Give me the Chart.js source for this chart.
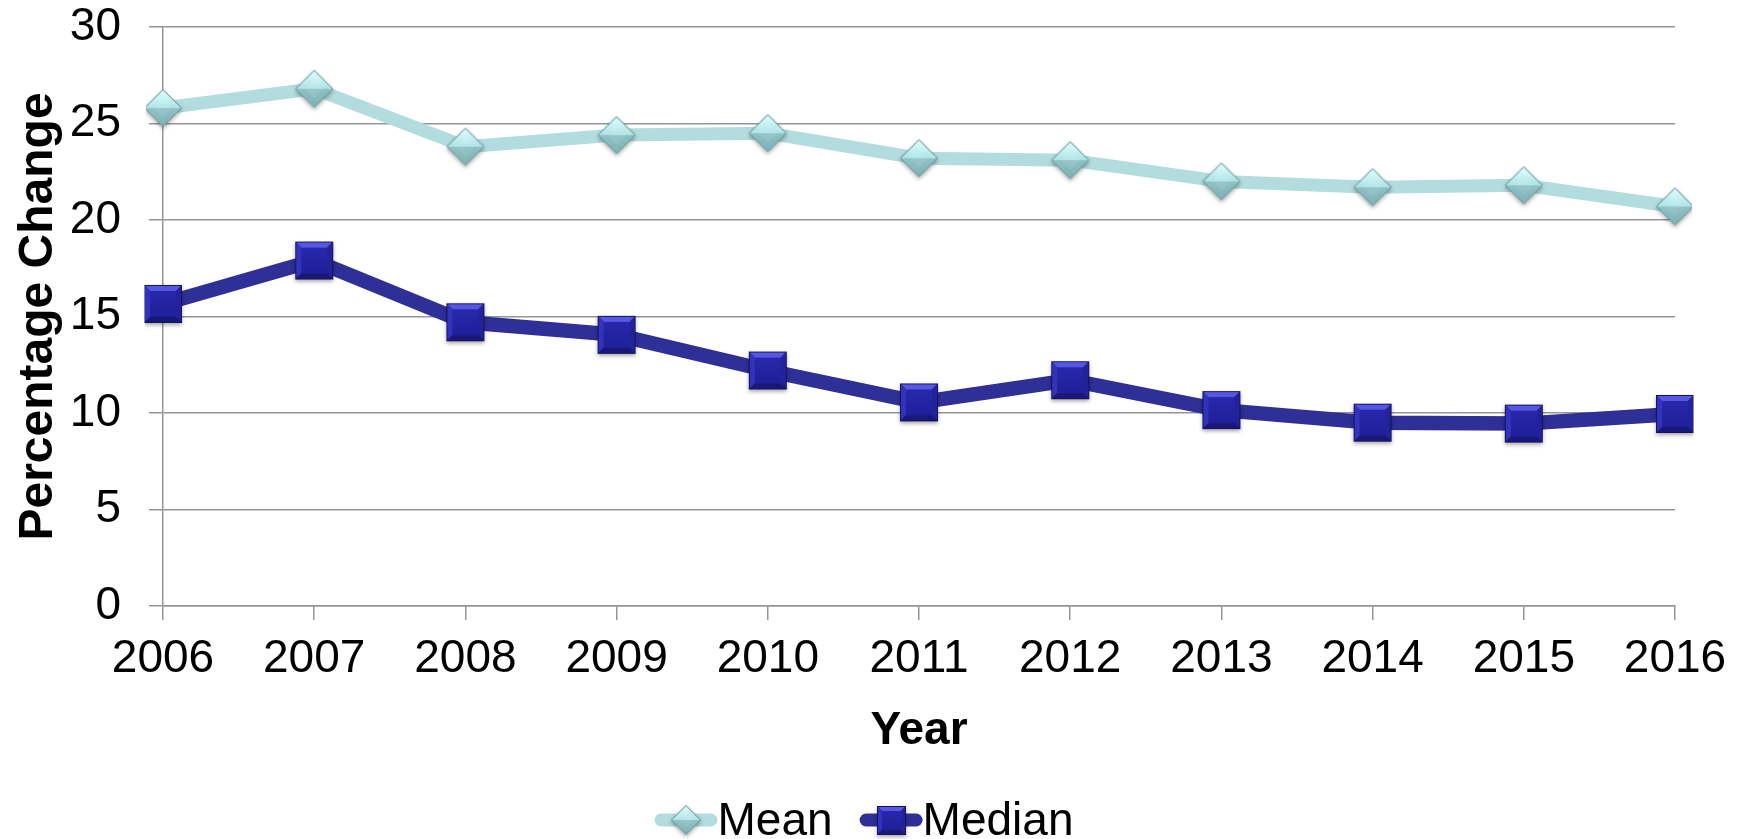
<!DOCTYPE html>
<html>
<head>
<meta charset="utf-8">
<script src="https://cdn.jsdelivr.net/npm/chart.js@4.4.1/dist/chart.umd.min.js"></script>
<style>
  html, body { margin: 0; padding: 0; background: #ffffff; }
  #wrap { width: 1746px; height: 839px; }
</style>
</head>
<body>
<div id="wrap"><canvas id="chart" width="1746" height="839"></canvas></div>
<script>
// Years on the horizontal axis
const years = ['2006', '2007', '2008', '2009', '2010', '2011', '2012', '2013', '2014', '2015', '2016'];
// Percentage change per year
const meanValues = [25.8, 26.8, 23.8, 24.4, 24.5, 23.2, 23.1, 22.0, 21.7, 21.8, 20.7];
const medianValues = [15.65, 17.9, 14.7, 14.05, 12.2, 10.55, 11.7, 10.15, 9.5, 9.45, 9.95];
// Vertical axis ticks
const yTicks = [0, 5, 10, 15, 20, 25, 30];

const FONT = '"Liberation Sans", Arial, sans-serif';
const GRID = '#959595';

// Beveled diamond marker
function makeDiamond(size) {
  const m = 6, S = size + 2 * m, c = S / 2, r = size / 2;
  const cv = document.createElement('canvas');
  cv.width = S; cv.height = S;
  const g = cv.getContext('2d');
  g.save();
  g.shadowColor = 'rgba(0,0,0,0.35)';
  g.shadowBlur = 4;
  g.shadowOffsetY = 2;
  g.beginPath();
  g.moveTo(c, c - r); g.lineTo(c + r, c); g.lineTo(c, c + r); g.lineTo(c - r, c); g.closePath();
  g.fillStyle = '#6f9fa2';
  g.fill();
  g.restore();
  const ri = r - 1.2;
  // upper half
  let gr = g.createLinearGradient(0, c - ri, 0, c);
  gr.addColorStop(0, '#e2ffff');
  gr.addColorStop(1, '#ade3e6');
  g.beginPath();
  g.moveTo(c, c - ri); g.lineTo(c + ri, c); g.lineTo(c - ri, c); g.closePath();
  g.fillStyle = gr; g.fill();
  // lower half
  gr = g.createLinearGradient(0, c, 0, c + ri);
  gr.addColorStop(0, '#8fc2c5');
  gr.addColorStop(1, '#7eb2b5');
  g.beginPath();
  g.moveTo(c - ri, c); g.lineTo(c + ri, c); g.lineTo(c, c + ri); g.closePath();
  g.fillStyle = gr; g.fill();
  // inner facet
  const rf = ri * 0.55;
  g.beginPath();
  g.moveTo(c, c - rf); g.lineTo(c + rf, c); g.lineTo(c, c + rf); g.lineTo(c - rf, c); g.closePath();
  g.fillStyle = 'rgba(255,255,255,0.08)';
  g.fill();
  return cv;
}

// Beveled square marker
function makeSquare(size) {
  const m = 6, S = size + 2 * m, x0 = m, y0 = m, b = Math.round(size * 0.14);
  const cv = document.createElement('canvas');
  cv.width = S; cv.height = S;
  const g = cv.getContext('2d');
  g.save();
  g.shadowColor = 'rgba(0,0,0,0.35)';
  g.shadowBlur = 4;
  g.shadowOffsetY = 2;
  g.fillStyle = '#14145c';
  g.fillRect(x0, y0, size, size);
  g.restore();
  const x1 = x0 + 1, y1 = y0 + 1, w = size - 2;
  const poly = (pts, col) => {
    g.beginPath(); g.moveTo(pts[0][0], pts[0][1]);
    for (let i = 1; i < pts.length; i++) g.lineTo(pts[i][0], pts[i][1]);
    g.closePath(); g.fillStyle = col; g.fill();
  };
  poly([[x1, y1], [x1 + w, y1], [x1 + w - b, y1 + b], [x1 + b, y1 + b]], '#5757e6');
  poly([[x1, y1], [x1 + b, y1 + b], [x1 + b, y1 + w - b], [x1, y1 + w]], '#3232bd');
  poly([[x1 + w, y1], [x1 + w, y1 + w], [x1 + w - b, y1 + w - b], [x1 + w - b, y1 + b]], '#22229a');
  poly([[x1, y1 + w], [x1 + b, y1 + w - b], [x1 + w - b, y1 + w - b], [x1 + w, y1 + w]], '#181878');
  const gr = g.createLinearGradient(0, y1 + b, 0, y1 + w - b);
  gr.addColorStop(0, '#2828ac');
  gr.addColorStop(1, '#20209a');
  g.fillStyle = gr;
  g.fillRect(x1 + b, y1 + b, w - 2 * b, w - 2 * b);
  return cv;
}

const diamondMark = makeDiamond(38);
const squareMark = makeSquare(38);
const diamondSmall = makeDiamond(30);
const squareSmall = makeSquare(29);

// Legend drawn as line sample with marker, then label
const sampleLegend = {
  id: 'sampleLegend',
  afterDraw(chart) {
    const ctx = chart.ctx;
    const items = chart.data.datasets;
    const sampleW = 63, gapItem = 27, baseY = 835, midY = 820;
    ctx.save();
    ctx.font = '46px ' + FONT;
    const widths = items.map(d => sampleW + ctx.measureText(d.label).width);
    const total = widths.reduce((a, b) => a + b, 0) + gapItem * (items.length - 1);
    let x = 864 - total / 2;
    items.forEach((d, i) => {
      ctx.beginPath();
      ctx.lineCap = 'round';
      ctx.lineWidth = 13;
      ctx.strokeStyle = d.borderColor;
      ctx.moveTo(x + 6.5, midY);
      ctx.lineTo(x + sampleW - 6.5, midY);
      ctx.stroke();
      const img = d.legendMark;
      ctx.drawImage(img, Math.round(x + sampleW / 2 - img.width / 2), Math.round(midY - img.height / 2));
      ctx.fillStyle = '#000000';
      ctx.textBaseline = 'alphabetic';
      ctx.textAlign = 'left';
      ctx.fillText(d.label, x + sampleW, baseY);
      x += widths[i] + gapItem;
    });
    ctx.restore();
  }
};

new Chart(document.getElementById('chart'), {
  type: 'line',
  data: {
    labels: years,
    datasets: [
      {
        label: 'Mean',
        data: meanValues,
        borderColor: '#b3dcdf',
        backgroundColor: '#b3dcdf',
        borderWidth: 13,
        borderJoinStyle: 'round',
        pointStyle: diamondMark,
        legendMark: diamondSmall,
        tension: 0
      },
      {
        label: 'Median',
        data: medianValues,
        borderColor: '#2f2f98',
        backgroundColor: '#2f2f98',
        borderWidth: 14.5,
        borderJoinStyle: 'round',
        pointStyle: squareMark,
        legendMark: squareSmall,
        tension: 0
      }
    ]
  },
  options: {
    responsive: false,
    animation: false,
    devicePixelRatio: 1,
    layout: { padding: { top: 0, right: 71, bottom: 0, left: 0 } },
    plugins: {
      legend: { display: false },
      tooltip: { enabled: false }
    },
    scales: {
      x: {
        offset: false,
        grid: {
          display: true,
          drawOnChartArea: false,
          drawTicks: true,
          tickLength: 14,
          color: GRID,
          lineWidth: 1.5
        },
        border: { display: true, color: GRID, width: 1.5 },
        ticks: {
          color: '#000000',
          font: { family: FONT, size: 46 },
          padding: 12,
          maxRotation: 0,
          autoSkip: false
        },
        title: {
          display: true,
          text: 'Year',
          color: '#000000',
          font: { family: FONT, size: 46, weight: 'bold' },
          padding: { top: 0, bottom: 80 }
        },
        afterFit(scale) {
          scale.height = 233;
          scale.paddingLeft = 0;
          scale.paddingRight = 0;
        }
      },
      y: {
        min: 0,
        max: 30,
        afterBuildTicks(scale) { scale.ticks = yTicks.map(v => ({ value: v })); },
        grid: {
          display: true,
          drawOnChartArea: true,
          drawTicks: true,
          tickLength: 14,
          color: GRID,
          lineWidth: 1.5
        },
        border: { display: true, color: GRID, width: 1.5 },
        ticks: {
          color: '#000000',
          font: { family: FONT, size: 46 },
          padding: 28
        },
        title: {
          display: true,
          text: 'Percentage Change',
          color: '#000000',
          font: { family: FONT, size: 48, weight: 'bold' },
          padding: { top: 10, bottom: 0 }
        },
        afterFit(scale) {
          scale.width = 163;
          scale.paddingTop = 27;
          scale.paddingBottom = 0;
        }
      }
    }
  },
  plugins: [sampleLegend]
});
</script>
</body>
</html>
